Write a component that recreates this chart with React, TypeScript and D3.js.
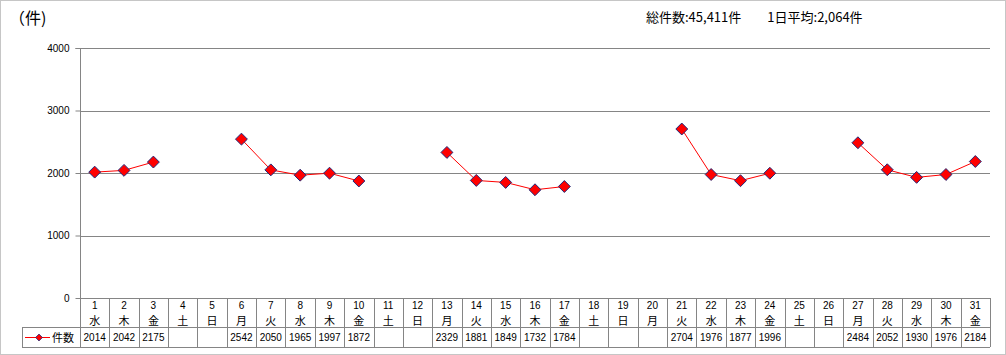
import React, { useRef, useEffect } from 'react';
import * as d3 from 'd3';

const days = d3.range(1, 32).map(String);
const weekdays = ['水', '木', '金', '土', '日', '月', '火', '水', '木', '金', '土', '日', '月', '火', '水', '木', '金', '土', '日', '月', '火', '水', '木', '金', '土', '日', '月', '火', '水', '木', '金'];
const counts: (number | null)[] = [
  2014, 2042, 2175, null, null, 2542, 2050, 1965, 1997, 1872, null, null, 2329, 1881, 1849,
  1732, 1784, null, null, null, 2704, 1976, 1877, 1996, null, null, 2484, 2052, 1930, 1976, 2184,
];
const yTicks = [0, 1000, 2000, 3000, 4000];
const seriesName = '件数';
const unitLabel = '（件)';
const summaryText = '総件数:45,411件　　1日平均:2,064件';

const W = 1006;
const H = 355;
const FONT = '"Liberation Sans", Arial, "Noto Sans CJK JP", sans-serif';
const JP = '"Noto Sans CJK JP", "Liberation Sans", sans-serif';

export default function App() {
  const svgRef = useRef<SVGSVGElement | null>(null);

  useEffect(() => {
    document.body.style.margin = '0';
    if (!svgRef.current) return;
    const svg = d3.select(svgRef.current);
    svg.selectAll('*').remove();

    const margin = { top: 48, left: 80, right: 990, bottom: 298 };
    const rowNum = 298, rowDay = 316, rowVal = 327, tableBottom = 347;

    const x = d3.scaleBand<string>().domain(days).range([margin.left, margin.right]);
    const y = d3.scaleLinear().domain([0, 4000]).range([margin.bottom, margin.top]);
    const grid = '#858585';

    // outer border
    svg.append('rect')
      .attr('x', 0.5).attr('y', 0.5).attr('width', W - 1).attr('height', H - 1)
      .attr('fill', 'white').attr('stroke', '#8c8c8c').attr('stroke-dasharray', '1,1');

    // header texts
    svg.append('text').attr('x', 9).attr('y', 24)
      .attr('font-family', JP).attr('font-size', 16).text(unitLabel);
    svg.append('text').attr('x', 646).attr('y', 22)
      .attr('font-family', JP).attr('font-size', 13).text(summaryText);

    // gridlines
    svg.append('g').selectAll('line')
      .data(yTicks.filter(t => t > 0))
      .join('line')
      .attr('x1', margin.left).attr('x2', margin.right)
      .attr('y1', d => Math.round(y(d)) + 0.5).attr('y2', d => Math.round(y(d)) + 0.5)
      .attr('stroke', grid);

    // y axis
    const yAxis = svg.append('g')
      .attr('transform', `translate(${margin.left + 0.5},0)`)
      .call(d3.axisLeft(y).tickValues(yTicks).tickSize(5).tickPadding(6).tickFormat(d3.format('d')));
    yAxis.select('.domain').attr('stroke', grid).attr('d', `M-5,${margin.top + 0.5}H0V${tableBottom}`);
    yAxis.selectAll('.tick line').attr('stroke', grid);
    yAxis.selectAll('.tick text').attr('font-family', FONT).attr('font-size', 10).attr('fill', '#000');

    // table
    const table = svg.append('g');
    table.append('line')
      .attr('x1', margin.left).attr('x2', margin.right)
      .attr('y1', margin.bottom + 0.5).attr('y2', margin.bottom + 0.5).attr('stroke', grid);
    table.append('line')
      .attr('x1', 22).attr('x2', margin.right)
      .attr('y1', rowVal + 0.5).attr('y2', rowVal + 0.5).attr('stroke', grid);
    table.append('line')
      .attr('x1', 22).attr('x2', margin.right)
      .attr('y1', tableBottom + 0.5).attr('y2', tableBottom + 0.5).attr('stroke', grid);
    table.append('line')
      .attr('x1', 22.5).attr('x2', 22.5)
      .attr('y1', rowVal).attr('y2', tableBottom).attr('stroke', grid);
    table.selectAll('line.col')
      .data(days)
      .join('line')
      .attr('class', 'col')
      .attr('x1', d => Math.round((x(d) ?? 0) + x.bandwidth()) + 0.5)
      .attr('x2', d => Math.round((x(d) ?? 0) + x.bandwidth()) + 0.5)
      .attr('y1', rowNum).attr('y2', tableBottom)
      .attr('stroke', grid);

    const cx = (d: string) => (x(d) ?? 0) + x.bandwidth() / 2;
    table.selectAll('text.num')
      .data(days)
      .join('text')
      .attr('class', 'num')
      .attr('x', cx).attr('y', rowNum + 11)
      .attr('text-anchor', 'middle').attr('font-family', FONT).attr('font-size', 10)
      .text(d => d);
    table.selectAll('text.wd')
      .data(days)
      .join('text')
      .attr('class', 'wd')
      .attr('x', cx).attr('y', rowDay + 9)
      .attr('text-anchor', 'middle').attr('font-family', JP).attr('font-size', 11)
      .text((d, i) => weekdays[i]);
    table.selectAll('text.val')
      .data(days)
      .join('text')
      .attr('class', 'val')
      .attr('x', cx).attr('y', rowVal + 14)
      .attr('text-anchor', 'middle').attr('font-family', FONT).attr('font-size', 10)
      .text((d, i) => (counts[i] == null ? '' : String(counts[i])));

    // legend cell
    const diamond = d3.symbol().type(d3.symbolDiamond2).size(90);
    table.append('line')
      .attr('x1', 25).attr('x2', 50).attr('y1', 337.5).attr('y2', 337.5)
      .attr('stroke', '#ff0000');
    table.append('path')
      .attr('d', d3.symbol().type(d3.symbolDiamond2).size(30)())
      .attr('transform', 'translate(39,337.5)')
      .attr('fill', '#ff0000').attr('stroke', '#1f2a7a').attr('stroke-width', 0.8);
    table.append('text').attr('x', 52).attr('y', 342)
      .attr('font-family', JP).attr('font-size', 11).text(seriesName);

    // line
    const pts = days.map((d, i) => ({ d, v: counts[i] }));
    const line = d3.line<{ d: string; v: number | null }>()
      .defined(p => p.v != null)
      .x(p => cx(p.d))
      .y(p => y(p.v as number));
    svg.append('path')
      .datum(pts)
      .attr('d', line)
      .attr('fill', 'none').attr('stroke', '#ff0000').attr('stroke-width', 1);

    svg.append('g').selectAll('path')
      .data(pts.filter(p => p.v != null))
      .join('path')
      .attr('d', diamond())
      .attr('transform', p => `translate(${cx(p.d)},${y(p.v as number)})`)
      .attr('fill', '#ff0000').attr('stroke', '#1f2a7a').attr('stroke-width', 1);
  }, []);

  return <svg ref={svgRef} width={W} height={H} style={{ display: 'block' }} />;
}
